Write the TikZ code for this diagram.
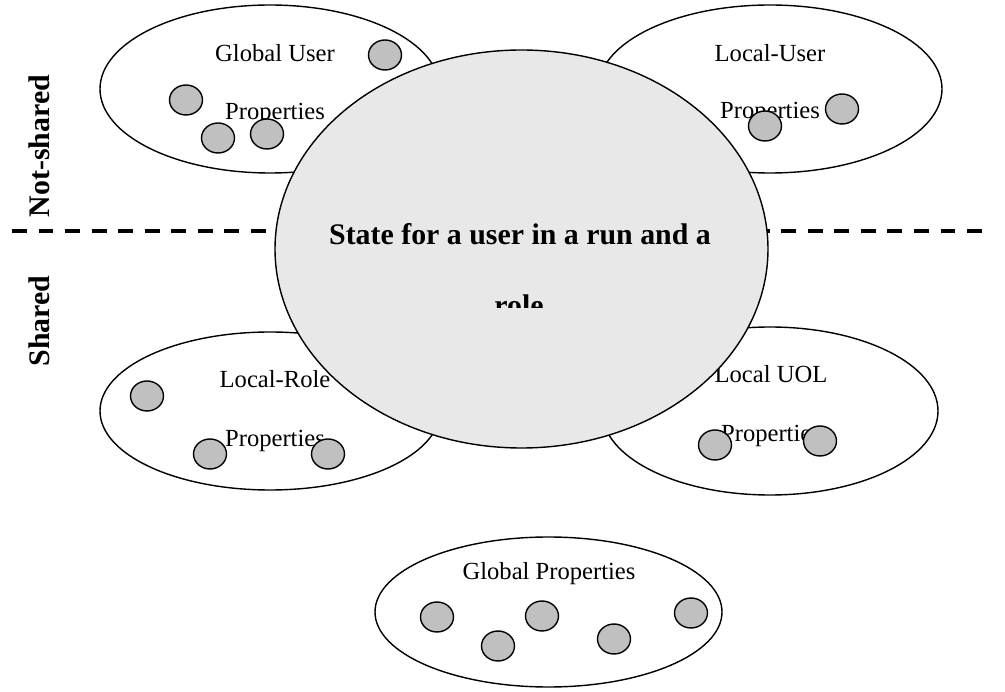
\documentclass[tikz,border=0pt]{standalone}
\usepackage{fontspec}
\setmainfont{Liberation Serif}
\definecolor{itemgray}{HTML}{C0C0C0}
\definecolor{stategray}{HTML}{E8E8E8}

\begin{document}
\begin{tikzpicture}[x=0.02cm,y=-0.02cm,
  prop/.style={draw,fill=white,line width=0.8pt},
  item/.style={draw,fill=itemgray,line width=0.8pt},
  state/.style={draw,fill=stategray,line width=0.8pt},
  divider/.style={line width=2.2pt,dash pattern=on 8.5pt off 6.6pt},
  lbl/.style={font=\fontsize{14}{16}\selectfont,anchor=base,inner sep=0pt},
  big/.style={font=\fontsize{17}{20}\selectfont\bfseries,anchor=base,inner sep=0pt}]
\useasboundingbox (0,0) rectangle (1005,692);

% Global User Properties
\draw[prop] (270,89) ellipse [x radius=170,y radius=84];
\node[lbl] (gu1) at (275,62) {Global User};
\node[lbl] (gu2) at (275,120) {Properties};
\foreach \p in {(385,55),(186,100),(218,138),(267,134)}
  \draw[item] \p ellipse [x radius=16.5,y radius=15];

% Local-User Properties
\draw[prop] (770,89) ellipse [x radius=172,y radius=84];
\node[lbl] (lu1) at (770,62) {Local-User};
\node[lbl] (lu2) at (770,119) {Properties};
\foreach \p in {(765,126),(842,109)}
  \draw[item] \p ellipse [x radius=16.5,y radius=15];

% Local-Role Properties
\draw[prop] (270,411) ellipse [x radius=170,y radius=79];
\node[lbl] (lr1) at (275,388) {Local-Role};
\node[lbl] (lr2) at (275,447) {Properties};
\foreach \p in {(147,396),(210,454),(328,454)}
  \draw[item] \p ellipse [x radius=16.5,y radius=15];

% Local UOL Properties
\draw[prop] (770,411) ellipse [x radius=168,y radius=84];
\node[lbl] (lo1) at (771,383) {Local UOL};
\node[lbl] (lo2) at (771,442) {Properties};
\foreach \p in {(715,445),(820,441)}
  \draw[item] \p ellipse [x radius=16.5,y radius=15];

% Global Properties
\draw[prop] (548.5,612) ellipse [x radius=173.5,y radius=75];
\node[lbl] (gp) at (549,580) {Global Properties};
\foreach \p in {(437,617),(498,646),(542,616),(614,639),(691,613)}
  \draw[item] \p ellipse [x radius=16.5,y radius=15];

% shared / not-shared
\coordinate (divL) at (12,231);
\coordinate (divR) at (993,231);
\draw[divider] (divL) -- (divR);
\node[big,rotate=90] (notshared) at (50,146) {Not-shared};
\node[big,rotate=90] (shared) at (50,321) {Shared};

% state
\draw[state] (521.5,249) ellipse [x radius=246.5,y radius=199];
\begin{scope}
\clip (275,50) rectangle (768,308);
\node[big] (st1) at (520,245) {State for a user in a run and a};
\node[big] (st2) at (519,316) {role};
\end{scope}
\end{tikzpicture}
\end{document}
